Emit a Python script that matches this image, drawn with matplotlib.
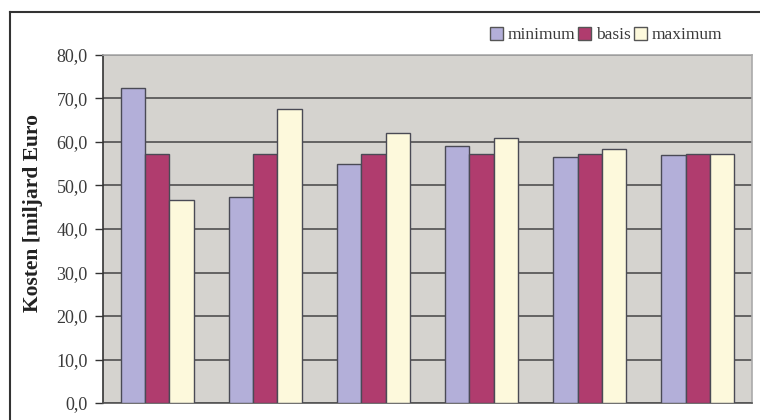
import matplotlib.pyplot as plt
import numpy as np
from matplotlib.patches import Patch
from matplotlib.lines import Line2D
from matplotlib.ticker import FuncFormatter

# Data (miljard Euro)
series = ["minimum", "basis", "maximum"]
minimum = [72.5, 47.3, 55.0, 59.0, 56.5, 57.0]
basis = [57.3, 57.3, 57.3, 57.3, 57.3, 57.3]
maximum = [46.7, 67.5, 62.0, 61.0, 58.5, 57.3]
colors = ["#b3afd9", "#b03c6e", "#fdf9dc"]

plt.rcParams['font.family'] = ['Liberation Serif', 'DejaVu Serif']

fig = plt.figure(figsize=(7.6, 4.2), dpi=100)
ax = fig.add_axes([103 / 760, 1 - 403 / 420, 649 / 760, 348 / 420])

x = np.arange(len(minimum))
w = 0.225
for i, (vals, c) in enumerate(zip([minimum, basis, maximum], colors)):
    ax.bar(x + (i - 1) * w, vals, width=w, color=c, edgecolor="#4a4a55",
           linewidth=1.0, zorder=3)

ax.set_facecolor("#d5d3cf")
ax.set_xlim(-0.5, len(minimum) - 0.5)
ax.set_ylim(0, 80)
ax.set_yticks(np.arange(0, 81, 10))
ax.yaxis.set_major_formatter(FuncFormatter(lambda v, p: f"{v:.1f}".replace(".", ",")))
ax.set_xticks([])
ax.grid(axis="y", color="#505050", linewidth=1.2, zorder=1)
ax.tick_params(axis="y", length=6, width=1, color="#333333", labelsize=13,
               labelcolor="#3a3a3a", pad=5)

for side in ["top", "right", "bottom"]:
    ax.spines[side].set_color("#aaaaaa")
    ax.spines[side].set_linewidth(1.2)
ax.spines["left"].set_color("#333333")
ax.spines["left"].set_linewidth(1.2)
ax.spines["bottom"].set_color("#555555")

fig.text(33 / 760, 1 - 213 / 420, "Kosten [miljard Euro", rotation=90,
         ha="center", va="center", fontsize=15.5, fontweight="bold", color="#222222")

handles = [Patch(facecolor=c, edgecolor="#555555", linewidth=1.0) for c in colors]
fig.legend(handles, series, loc="center right", bbox_to_anchor=(731 / 760, 1 - 35 / 420),
           ncol=3, frameon=False, fontsize=12.5, handlelength=0.75, handleheight=0.75,
           handletextpad=0.3, columnspacing=0.15, borderpad=0, labelcolor="#3a3a3a")

# outer frame (left and top edges visible in the reference)
fig.add_artist(Line2D([10 / 760, 10 / 760], [0, 1 - 12 / 420], color="#333333",
                      linewidth=1.5, transform=fig.transFigure))
fig.add_artist(Line2D([10 / 760, 1], [1 - 12 / 420, 1 - 12 / 420], color="#333333",
                      linewidth=1.5, transform=fig.transFigure))

fig.savefig("out.png", dpi=100)
